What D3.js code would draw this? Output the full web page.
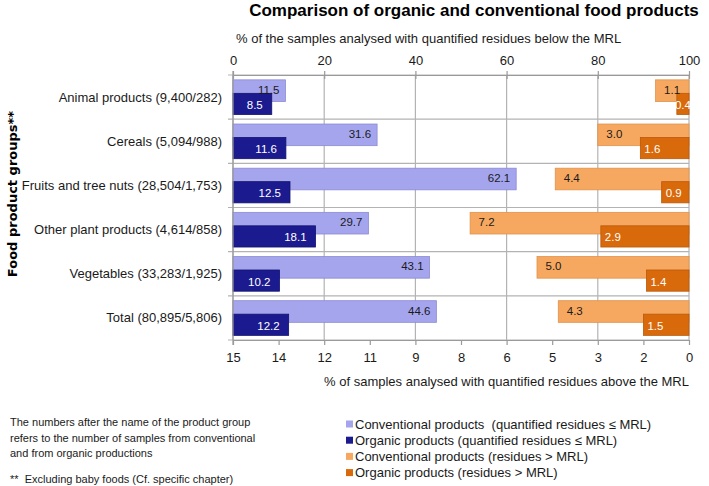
<!DOCTYPE html>
<html>
<head>
<meta charset="utf-8">
<script src="https://cdn.jsdelivr.net/npm/d3@7"></script>
<style>
  html, body { margin: 0; padding: 0; background: #fff; }
  svg { display: block; }
  text { font-family: "Liberation Sans", Arial, sans-serif; fill: #1a1a1a; }
</style>
</head>
<body>
<svg id="chart" width="709" height="486"></svg>
<script>
// ---------- data ----------
const categories = [
  "Animal products (9,400/282)",
  "Cereals (5,094/988)",
  "Fruits and tree nuts (28,504/1,753)",
  "Other plant products (4,614/858)",
  "Vegetables (33,283/1,925)",
  "Total (80,895/5,806)"
];
const convBelow = [11.5, 31.6, 62.1, 29.7, 43.1, 44.6];   // conventional, quantified residues <= MRL (%)
const orgBelow  = [8.5, 11.6, 12.5, 18.1, 10.2, 12.2];    // organic, quantified residues <= MRL (%)
const convAbove = [1.1, 3.0, 4.4, 7.2, 5.0, 4.3];         // conventional, residues > MRL (%)
const orgAbove  = [0.4, 1.6, 0.9, 2.9, 1.4, 1.5];         // organic, residues > MRL (%)
const topTickValues = [0, 20, 40, 60, 80, 100];
const bottomTickValues = [15, 13.5, 12, 10.5, 9, 7.5, 6, 4.5, 3, 1.5, 0];
const legendLabels = [
  "Conventional products  (quantified residues \u2264 MRL)",
  "Organic products (quantified residues \u2264 MRL)",
  "Conventional products (residues > MRL)",
  "Organic products (residues > MRL)"
];
const noteLines = [
  "The numbers after the name of the product group",
  "refers to the number of samples from conventional",
  "and from organic productions"
];
const footNote = "**  Excluding baby foods (Cf. specific chapter)";
const titleText = "Comparison of organic and conventional food products";
const topAxisTitle = "% of the samples analysed with quantified residues below the MRL";
const bottomAxisTitle = "% of samples analysed with quantified residues above the MRL";
const yAxisTitle = "Food product groups**";

// ---------- styles ----------
const colors = ["#a5a5ee", "#1b1b8f", "#f6a860", "#d96a0b"];
const strokes = ["#8a8ad4", "#12126e", "#e0924a", "#b9590a"];
const gridColor = "#b3b3b3";

const svg = d3.select("#chart");
const pL = 233, pR = 689, pT = 75, pB = 340;

const x = d3.scaleLinear().domain([0, 100]).range([pL, pR]);
const x2 = d3.scaleLinear().domain([0, 15]).range([pR, pL]);
const y = d3.scaleBand().domain(categories).range([pT, pB]).paddingInner(0).paddingOuter(0);
const bw = y.bandwidth();
const lightY = c => y(c) + bw * 0.11;
const lightH = bw * 0.49;
const darkY = c => y(c) + bw * 0.415;
const darkH = bw * 0.48;

// ---------- grid ----------
const grid = svg.append("g");
grid.selectAll("line.v").data(topTickValues).join("line")
  .attr("x1", d => x(d)).attr("x2", d => x(d))
  .attr("y1", pT).attr("y2", pB)
  .attr("stroke", gridColor).attr("stroke-width", 1.2);
const boundaries = categories.map(c => y(c)).concat([pB]);
grid.selectAll("line.h").data(boundaries).join("line")
  .attr("x1", pL - 5).attr("x2", pR)
  .attr("y1", d => d).attr("y2", d => d)
  .attr("stroke", gridColor).attr("stroke-width", 1.2);

// ---------- bars ----------
const rows = categories.map((c, i) => ({ c, cb: convBelow[i], ob: orgBelow[i], ca: convAbove[i], oa: orgAbove[i] }));
const bars = svg.append("g");
bars.selectAll("rect.cb").data(rows).join("rect")
  .attr("x", x(0)).attr("y", d => lightY(d.c))
  .attr("width", d => x(d.cb) - x(0)).attr("height", lightH)
  .attr("fill", colors[0]).attr("stroke", strokes[0]).attr("stroke-width", 0.8);
bars.selectAll("rect.ca").data(rows).join("rect")
  .attr("x", d => x2(d.ca)).attr("y", d => lightY(d.c))
  .attr("width", d => x2(0) - x2(d.ca)).attr("height", lightH)
  .attr("fill", colors[2]).attr("stroke", strokes[2]).attr("stroke-width", 0.8);
bars.selectAll("rect.ob").data(rows).join("rect")
  .attr("x", x(0)).attr("y", d => darkY(d.c))
  .attr("width", d => x(d.ob) - x(0)).attr("height", darkH)
  .attr("fill", colors[1]).attr("stroke", strokes[1]).attr("stroke-width", 0.8);
bars.selectAll("rect.oa").data(rows).join("rect")
  .attr("x", d => x2(d.oa)).attr("y", d => darkY(d.c))
  .attr("width", d => x2(0) - x2(d.oa)).attr("height", darkH)
  .attr("fill", colors[3]).attr("stroke", strokes[3]).attr("stroke-width", 0.8);

// ---------- value labels ----------
const fmt = d3.format(".1f");
const lab = svg.append("g").style("font-size", "11.5px");
lab.selectAll("text.cb").data(rows).join("text")
  .attr("x", d => x(d.cb) - 6).attr("y", d => lightY(d.c) + lightH / 2 - 1)
  .attr("text-anchor", "end").attr("dominant-baseline", "central")
  .style("fill", "#1a1a1a").text(d => fmt(d.cb));
lab.selectAll("text.ob").data(rows).join("text")
  .attr("x", d => x(d.ob) - 9).attr("y", d => darkY(d.c) + darkH / 2 + 1)
  .attr("text-anchor", "end").attr("dominant-baseline", "central")
  .style("fill", "#ffffff").text(d => fmt(d.ob));
function orangeLabel(sel, key, yf, h, pad, fill) {
  sel.attr("y", d => yf(d.c) + h)
    .attr("dominant-baseline", "central")
    .style("fill", fill).text(d => fmt(d[key]))
    .each(function(d) {
      const tw = this.getComputedTextLength();
      const x0 = x2(d[key]), wbar = x2(0) - x0;
      const xs = (wbar < tw + 2 * pad) ? x0 + wbar / 2 - tw / 2 : x0 + pad;
      d3.select(this).attr("x", xs);
    });
}
lab.selectAll("text.ca").data(rows).join("text")
  .call(orangeLabel, "ca", lightY, lightH / 2 - 1, 8.5, "#1a1a1a");
lab.selectAll("text.oa").data(rows).join("text")
  .call(orangeLabel, "oa", darkY, darkH / 2 + 1, 4, "#ffffff");

// ---------- axes ----------
const axisColor = "#9a9a9a";
const topAxis = svg.append("g").attr("transform", `translate(0,${pT})`)
  .call(d3.axisTop(x).tickValues(topTickValues).tickSize(4).tickSizeOuter(0).tickPadding(6));
const botAxis = svg.append("g").attr("transform", `translate(0,${pB})`)
  .call(d3.axisBottom(x2).tickValues(bottomTickValues).tickFormat(d3.format(".0f")).tickSize(5).tickSizeOuter(0).tickPadding(8));
[topAxis, botAxis].forEach(g => {
  g.select(".domain").attr("stroke", axisColor).attr("stroke-width", 1.2);
  g.selectAll(".tick line").attr("stroke", axisColor).attr("stroke-width", 1.2);
  g.selectAll(".tick text").style("font-size", "13px").style("font-family", "Liberation Sans, Arial, sans-serif").attr("fill", "#1a1a1a");
});
topAxis.selectAll(".tick").append("line").attr("y1", 0).attr("y2", 4).attr("stroke", axisColor).attr("stroke-width", 1.2);
svg.append("line").attr("x1", pL).attr("x2", pL).attr("y1", pT - 4).attr("y2", pB + 5)
  .attr("stroke", axisColor).attr("stroke-width", 1.2);

// category labels
svg.append("g").selectAll("text").data(categories).join("text")
  .attr("x", 222).attr("y", d => y(d) + bw / 2)
  .attr("text-anchor", "end").attr("dominant-baseline", "central")
  .style("font-size", "13px").text(d => d);

// ---------- titles ----------
svg.append("text").attr("x", 474).attr("y", 16).attr("text-anchor", "middle")
  .style("font-size", "17px").style("font-weight", "bold").style("fill", "#000")
  .text(titleText);
svg.append("text").attr("x", 236).attr("y", 43)
  .style("font-size", "13px").text(topAxisTitle);
svg.append("text").attr("x", pR).attr("y", 386).attr("text-anchor", "end")
  .style("font-size", "13px").text(bottomAxisTitle);
svg.append("text").attr("transform", "translate(12,194) rotate(-90)")
  .attr("text-anchor", "middle").attr("dominant-baseline", "central")
  .style("font-size", "13px").style("font-weight", "bold").style("font-family", "DejaVu Sans, sans-serif").style("fill", "#000")
  .text(yAxisTitle);

// ---------- notes ----------
const notes = svg.append("g").style("font-size", "11px");
notes.selectAll("text").data(noteLines).join("text")
  .attr("x", 10).attr("y", (d, i) => 422 + i * 15.5)
  .attr("dominant-baseline", "central").text(d => d);
notes.append("text").attr("x", 10).attr("y", 479).attr("dominant-baseline", "central")
  .style("white-space", "pre").text(footNote);

// ---------- legend ----------
const leg = svg.append("g");
const legItems = leg.selectAll("g").data(legendLabels).join("g")
  .attr("transform", (d, i) => `translate(346,${424 + i * 16.2})`);
legItems.append("rect").attr("x", 0).attr("y", -3.5).attr("width", 7).attr("height", 7)
  .attr("fill", (d, i) => colors[i]);
legItems.append("text").attr("x", 9).attr("y", 0).attr("dominant-baseline", "central")
  .style("font-size", "13px").style("white-space", "pre").text(d => d);
</script>
</body>
</html>
